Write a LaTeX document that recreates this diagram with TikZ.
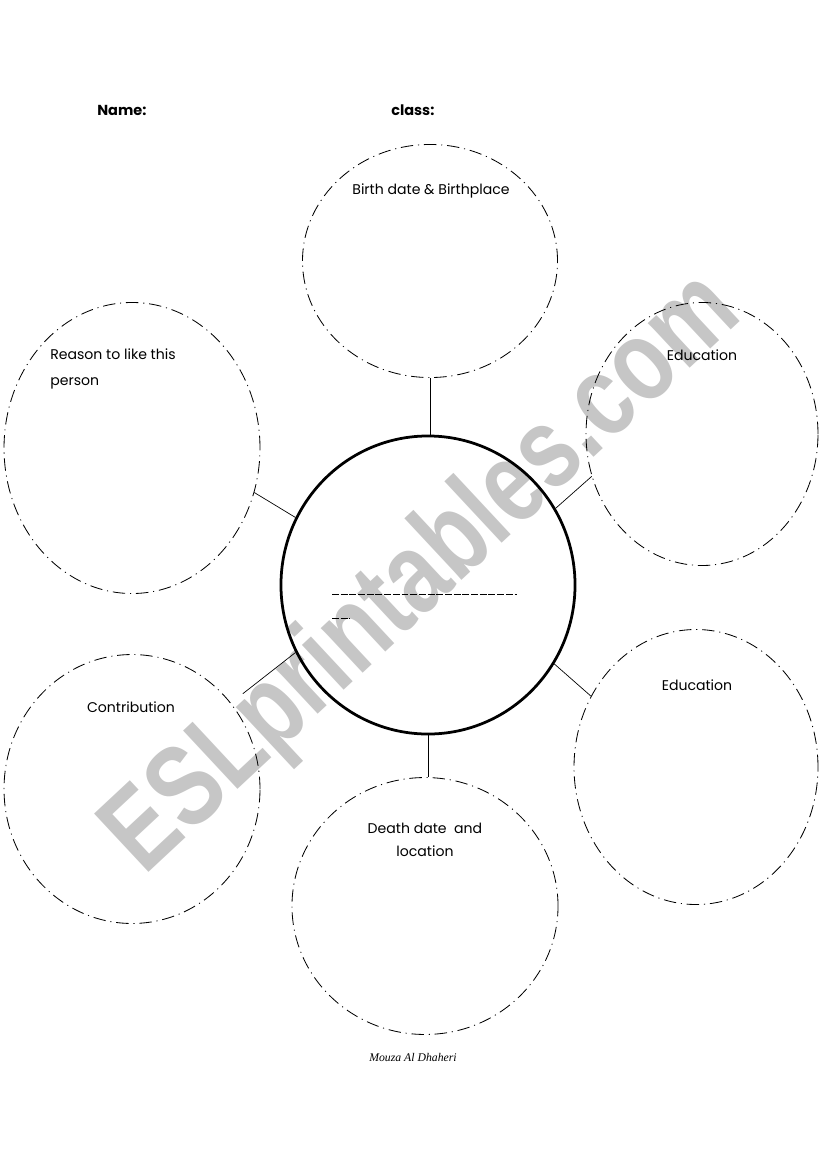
\documentclass[tikz,border=0pt]{standalone}
\usepackage{fontspec}
\setmainfont{Poppins}
\newfontfamily\markfont{Liberation Sans}
\newfontfamily\signfont{Liberation Serif}
\usepackage{tikz}
\usetikzlibrary{shapes.geometric}
\usetikzlibrary{arrows.meta, positioning}
\usepackage{xcolor}
\definecolor{markGray}{RGB}{198, 198, 198}
\colorlet{bubbleEdge}{black}
\tikzset{
    bubble/.style={ellipse, draw=bubbleEdge, line width=0.6pt, inner sep=0pt,
        dash pattern=on 9pt off 3.5pt on 0.8pt off 3.5pt},
    hub/.style={ellipse, draw=bubbleEdge, line width=2pt, inner sep=0pt},
    spoke/.style={draw=black, line width=0.5pt},
    blankline/.style={line width=0.6pt, dash pattern=on 5pt off 1.3pt},
    label/.style={font=\fontsize{10.2}{12}\selectfont, inner sep=0pt},
    heading/.style={font=\fontsize{10.5}{12}\selectfont\bfseries, inner sep=0pt, anchor=west}
}

\begin{document}
\begin{tikzpicture}[x=0.7247pt, y=-0.7247pt]
        % Page frame
        \useasboundingbox (0,0) rectangle (821,1169);

        % Watermark behind everything
        \node[rotate=43, text=markGray, inner sep=0pt] (mark) at (424,575)
            {\scalebox{0.78}[1]{\markfont\fontsize{84}{86}\selectfont\bfseries ESLprintables.com}};

        % Header
        \node[heading] (name) at (97,110) {Name:};
        \node[heading] (class) at (391,110) {class:};

        % Centre and the six bubbles
        \node[hub, minimum width=213.1pt, minimum height=216pt] (ctr) at (428,585) {};
        \node[bubble, minimum width=184.8pt, minimum height=168.9pt] (top) at (430,261) {};
        \node[bubble, minimum width=168.1pt, minimum height=190.6pt] (ur) at (702,434) {};
        \node[bubble, minimum width=185.5pt, minimum height=210.9pt] (ul) at (132,448) {};
        \node[bubble, minimum width=185.5pt, minimum height=194.9pt] (ll) at (132,789) {};
        \node[bubble, minimum width=176.8pt, minimum height=199.3pt] (lr) at (696,767) {};
        \node[bubble, minimum width=192.8pt, minimum height=186.2pt] (bot) at (425,906) {};

        % Spokes
        \draw[spoke] (top.south) -- (top.south |- ctr.north);
        \draw[spoke] (ctr.153) -- (ul.-20);
        \draw[spoke] (ctr.31) -- (ur.201);
        \draw[spoke, shorten >=11pt] (ctr.207) -- (ll.41);
        \draw[spoke] (ctr.-32) -- (lr.146);
        \draw[spoke] (ctr.south) -- (ctr.south |- bot.north);

        % Blank lines in the centre
        \draw[blankline] (332,594) -- (517,594);
        \draw[blankline] (332,618) -- (350,618);

        % Bubble labels
        \node[label] (birth) at (431,191) {Birth date \& Birthplace};
        \node[label, anchor=west, align=left, font=\fontsize{10.2}{18.8}\selectfont] (reason) at (50,369) {Reason to like this\\person};
        \node[label] (edu1) at (702,355) {Education};
        \node[label] (edu2) at (697,685) {Education};
        \node[label] (contrib) at (131,707) {Contribution};
        \node[label, align=center, font=\fontsize{10.2}{16.7}\selectfont] (death) at (425,840) {Death date~ and\\location};

        % Signature
        \node[inner sep=0pt, font=\signfont\itshape\fontsize{8.5}{9}\selectfont] (sign) at (413,1057) {Mouza Al Dhaheri};
    \end{tikzpicture}
\end{document}
